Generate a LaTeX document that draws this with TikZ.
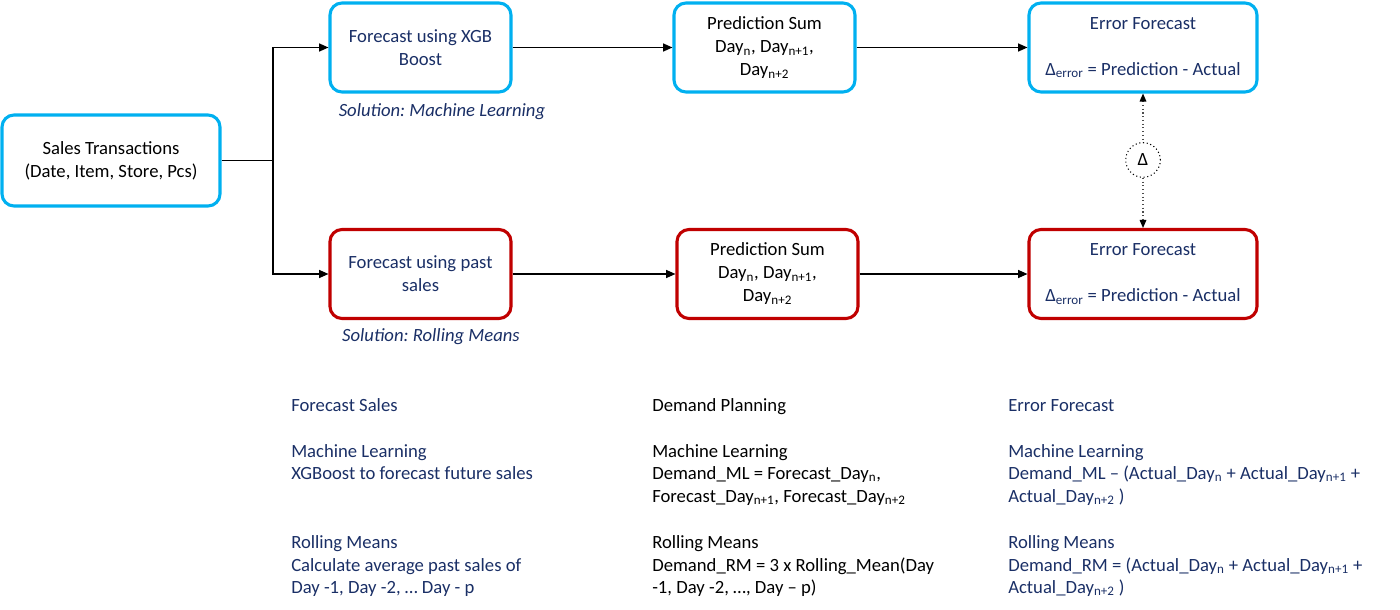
\documentclass[tikz,border=0pt]{standalone}
\usepackage{fontspec}
\setmainfont{Carlito}
\frenchspacing
\usetikzlibrary{arrows.meta,positioning}
\definecolor{cblue}{HTML}{00B0F0}
\definecolor{cred}{HTML}{C00000}
\definecolor{navy}{HTML}{1A2F66}
\begin{document}
\begin{tikzpicture}[x=0.75pt,y=-0.75pt,
  font=\fontsize{14}{17.25}\selectfont,
  box/.style={draw,line width=2.3pt,rounded corners=9pt,fill=white,align=center,inner sep=2pt},
  bluebox/.style={box,draw=cblue},
  redbox/.style={box,draw=cred},
  small/.style={minimum width=135.75pt,minimum height=66.75pt},
  wide/.style={minimum width=171pt,minimum height=66.75pt},
  arr/.style={-{Triangle[length=7pt,width=6pt]},line width=0.9pt},
  dotarr/.style={dotted,line width=0.8pt,draw=black!70},
  sol/.style={text=navy,font=\fontsize{14}{17.25}\selectfont\itshape},
  txt/.style={anchor=base west,inner sep=0pt},
]
\useasboundingbox (0,0) rectangle (1400,610);

% top row
\node[bluebox,minimum width=163.5pt,minimum height=68.25pt] (sales) at (111,160.5) {Sales Transactions\\(Date, Item, Store, Pcs)};
\node[bluebox,small,text=navy] (xgb) at (420.5,47.5) {Forecast using XGB\\Boost};
\node[bluebox,small] (ps1) at (764.5,47.5) {Prediction Sum\\Day\textsubscript{n}, Day\textsubscript{n+1},\\Day\textsubscript{n+2}};
\node[bluebox,wide,text=navy] (err1) at (1143,47.5) {Error Forecast\\\mbox{}\\Δ\textsubscript{error} = Prediction - Actual};
\node[sol] (sol1) at (442,112) {Solution: Machine Learning};

% bottom row
\node[redbox,small,text=navy] (past) at (420.5,274) {Forecast using past\\sales};
\node[redbox,small] (ps2) at (767.5,274) {Prediction Sum\\Day\textsubscript{n}, Day\textsubscript{n+1},\\Day\textsubscript{n+2}};
\node[redbox,wide,text=navy] (err2) at (1143,274) {Error Forecast\\\mbox{}\\Δ\textsubscript{error} = Prediction - Actual};
\node[sol] (sol2) at (431,337) {Solution: Rolling Means};

% delta
\node[circle,draw,dotted,line width=0.8pt,minimum size=26pt,inner sep=0pt] (delta) at (1143,160) {Δ};

% connectors
\coordinate (j) at (273,160.5);
\draw[line width=0.9pt] (sales.east) -- (j);
\draw[arr] (j) |- (xgb.west);
\draw[arr] (j) |- (past.west);
\draw[arr] (xgb.east) -- (ps1.west);
\draw[arr] (ps1.east) -- (err1.west);
\draw[arr] (past.east) -- (ps2.west);
\draw[arr] (ps2.east) -- (err2.west);
\draw[dotarr,{Triangle[length=6pt,width=5pt,fill=black,color=black,sep=0pt]}-] (err1.south) -- (delta.north);
\draw[dotarr,-{Triangle[length=6pt,width=5pt,fill=black,color=black]}] (delta.south) -- (err2.north);

% bottom text column 1
\begin{scope}[text=navy]
\node[txt] (a1) at (291,411) {Forecast Sales};
\node[txt] (a2) at (291,457) {Machine Learning};
\node[txt] (a3) at (291,479) {XGBoost to forecast future sales};
\node[txt] (a4) at (291,548) {Rolling Means};
\node[txt] (a5) at (291,571) {Calculate average past sales of};
\node[txt] (a6) at (291,593) {Day -1, Day -2, … Day - p};
\end{scope}
% column 2
\node[txt] (b1) at (652,411) {Demand Planning};
\node[txt] (b2) at (652,457) {Machine Learning};
\node[txt] (b3) at (652,479) {Demand\_ML = Forecast\_Day\textsubscript{n},};
\node[txt] (b4) at (652,502) {Forecast\_Day\textsubscript{n+1}, Forecast\_Day\textsubscript{n+2}};
\node[txt] (b5) at (652,548) {Rolling Means};
\node[txt] (b6) at (652,571) {Demand\_RM = 3 x Rolling\_Mean(Day};
\node[txt] (b7) at (652,593) {-1, Day -2, …, Day – p)};
% column 3
\begin{scope}[text=navy]
\node[txt] (c1) at (1008,411) {Error Forecast};
\node[txt] (c2) at (1008,457) {Machine Learning};
\node[txt] (c3) at (1008,479) {Demand\_ML – (Actual\_Day\textsubscript{n} + Actual\_Day\textsubscript{n+1} +};
\node[txt] (c4) at (1008,502) {Actual\_Day\textsubscript{n+2} )};
\node[txt] (c5) at (1008,548) {Rolling Means};
\node[txt] (c6) at (1008,571) {Demand\_RM = (Actual\_Day\textsubscript{n} + Actual\_Day\textsubscript{n+1} +};
\node[txt] (c7) at (1008,593) {Actual\_Day\textsubscript{n+2} )};
\end{scope}
\end{tikzpicture}
\end{document}
